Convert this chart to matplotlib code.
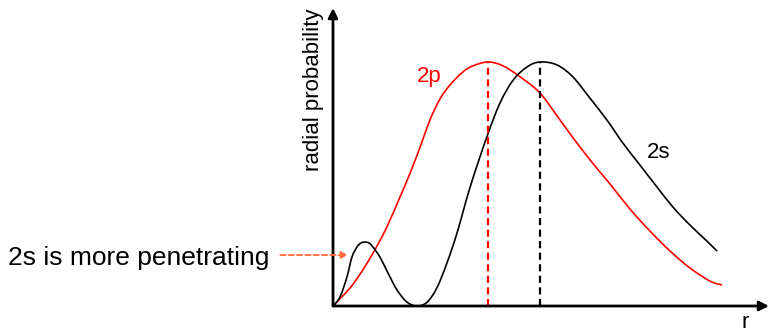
import matplotlib
matplotlib.use('Agg')
from matplotlib import pyplot as plt
from matplotlib.path import Path
from matplotlib.patches import PathPatch

plt.rcParams['font.family'] = ['Liberation Sans', 'DejaVu Sans']

# radial distance r (in a0) and radial probability (peak = 1)
r_2p = [0, 0.44, 0.77, 1.08, 1.39, 1.73, 1.99, 2.25, 2.50, 2.76, 3.02, 3.35, 3.61, 4.00,
        4.39, 4.83, 5.34, 5.86, 6.37, 6.89, 7.15, 7.66, 8.18, 8.70, 9.21, 9.73, 10.04]
p_2p = [0, 0.074, 0.148, 0.230, 0.324, 0.447, 0.545, 0.652, 0.762, 0.848, 0.906, 0.959, 0.984, 1.0,
        0.984, 0.939, 0.873, 0.762, 0.652, 0.549, 0.500, 0.398, 0.307, 0.225, 0.156, 0.102, 0.086]

r_2s = [0, 0.18, 0.36, 0.49, 0.62, 0.72, 0.83, 0.93, 1.03, 1.21, 1.42, 1.65, 1.91, 2.17,
        2.43, 2.68, 2.94, 3.20, 3.54, 3.97, 4.31, 4.65, 5.01, 5.34, 5.78, 6.19, 6.63,
        7.07, 7.48, 7.92, 8.36, 8.77, 9.21, 9.65, 9.91]
p_2s = [0, 0.037, 0.119, 0.201, 0.242, 0.258, 0.262, 0.258, 0.242, 0.201, 0.135, 0.066, 0.016, 0.0,
        0.016, 0.074, 0.176, 0.299, 0.488, 0.693, 0.832, 0.926, 0.980, 1.0, 0.988, 0.939, 0.852,
        0.762, 0.668, 0.578, 0.488, 0.406, 0.332, 0.266, 0.225]

peak_2p = 4.00
peak_2s = 5.34


def smooth_path(xs, ys):
    # draw the read points as one smooth bezier line (catmull-rom control points)
    pts = list(zip(xs, ys))
    verts = [pts[0]]
    codes = [Path.MOVETO]
    for i in range(len(pts) - 1):
        p0 = pts[i - 1] if i > 0 else pts[i]
        p1 = pts[i]
        p2 = pts[i + 1]
        p3 = pts[i + 2] if i + 2 < len(pts) else pts[i + 1]
        c1 = (p1[0] + (p2[0] - p0[0]) / 6, p1[1] + (p2[1] - p0[1]) / 6)
        c2 = (p2[0] - (p3[0] - p1[0]) / 6, p2[1] - (p3[1] - p1[1]) / 6)
        verts += [c1, c2, p2]
        codes += [Path.CURVE4] * 3
    return Path(verts, codes)


fig = plt.figure(figsize=(7.72, 3.32), dpi=100)
ax = fig.add_axes([333/772, 26/332, 439/772, 306/332])
ax.set_xlim(0, 439/38.75)
ax.set_ylim(0, 306/244)
ax.axis('off')

ax.add_patch(PathPatch(smooth_path(r_2p, p_2p), fc='none', ec='red', lw=1.2))
ax.add_patch(PathPatch(smooth_path(r_2s, p_2s), fc='none', ec='black', lw=1.2))
ax.plot([peak_2p, peak_2p], [0, max(p_2p)], c='red', lw=1.6, dashes=(3.2, 2))
ax.plot([peak_2s, peak_2s], [0, max(p_2s)], c='black', lw=1.6, dashes=(3.2, 2))

# axes with arrows
ax.annotate('', xy=(0, 298/244), xytext=(0, 0), annotation_clip=False,
            arrowprops=dict(arrowstyle='-|>', lw=2, color='black', mutation_scale=14,
                            shrinkA=0, shrinkB=0))
ax.annotate('', xy=(436/38.75, 0), xytext=(0, 0), annotation_clip=False,
            arrowprops=dict(arrowstyle='-|>', lw=2, color='black', mutation_scale=14,
                            shrinkA=0, shrinkB=0))

# penetration arrow
ax.annotate('', xy=(0.39, 0.209), xytext=(-1.36, 0.209), annotation_clip=False,
            arrowprops=dict(arrowstyle='-|>', lw=1.3, color='#ff6a3d', linestyle=(0, (3, 1.6)),
                            mutation_scale=10, shrinkA=0, shrinkB=0))

ax.text(2.17, 0.918, '2p', color='red', fontsize=16, va='baseline', ha='left')
ax.text(8.10, 0.607, '2s', color='black', fontsize=16, va='baseline', ha='left')

fig.text(8/772, (332-265)/332, '2s is more penetrating', fontsize=19, va='baseline', ha='left')
fig.text(314/772, 1-90/332, 'radial probability', fontsize=16, rotation=90, va='center', ha='center')
fig.text(745/772, 1-322/332, 'r', fontsize=16, va='center', ha='center')

fig.savefig('out.png', dpi=100)
